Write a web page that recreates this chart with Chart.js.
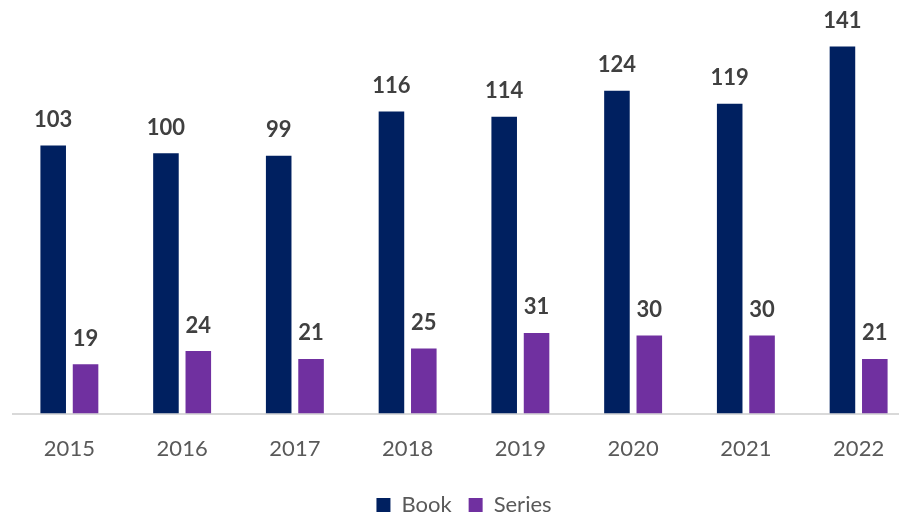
<!DOCTYPE html>
<html><head><meta charset="utf-8">
<script src="https://cdn.jsdelivr.net/npm/chart.js@4/dist/chart.umd.min.js"></script>
<style>
html,body{margin:0;padding:0;background:#fff;overflow:hidden;width:899px;height:513px}
#wrap{position:absolute;left:0;top:0;width:899px;height:513px;overflow:hidden}
canvas{position:absolute;left:0;top:0}
</style></head>
<body><div id="wrap"><canvas id="c" width="936" height="528"></canvas></div>
<script>
const years = ['2015','2016','2017','2018','2019','2020','2021','2022'];
const bookValues = [103,100,99,116,114,124,119,141];
const seriesValues = [19,24,21,25,31,30,30,21];
const FONT = 'Lato';

const labelPlugin = {
  id: 'barLabels',
  afterDatasetsDraw(chart) {
    const ctx = chart.ctx;
    ctx.save();
    ctx.font = 'bold 22px ' + FONT;
    ctx.fillStyle = '#404040';
    ctx.textAlign = 'center';
    ctx.textBaseline = 'alphabetic';
    chart.data.datasets.forEach((ds, di) => {
      chart.getDatasetMeta(di).data.forEach((bar, i) => {
        ctx.fillText(String(ds.data[i]), bar.x, bar.y - 18.5);
      });
    });
    ctx.restore();
  }
};

new Chart(document.getElementById('c'), {
  type: 'bar',
  data: {
    labels: years,
    datasets: [
      {label: 'Book', data: bookValues, backgroundColor: '#002060', categoryPercentage: 0.574, barPercentage: 0.79},
      {label: 'Series', data: seriesValues, backgroundColor: '#7030A0', categoryPercentage: 0.574, barPercentage: 0.79}
    ]
  },
  options: {
    responsive: false,
    animation: false,
    layout: {padding: {left: 13, right: 21, top: 10, bottom: 2}},
    scales: {
      x: {
        grid: {display: false, drawTicks: false},
        border: {display: true, color: '#D9D9D9', width: 2},
        ticks: {color: '#595959', font: {family: FONT, size: 22}, padding: 22.5},
        afterFit(scale) { scale.height = 63.4; }
      },
      y: {display: false, min: 0, max: 155}
    },
    plugins: {
      legend: {
        position: 'bottom',
        labels: {boxWidth: 14, boxHeight: 14, color: '#595959', font: {family: FONT, size: 22}, padding: 17, useBorderRadius: false}
      },
      tooltip: {enabled: false}
    }
  },
  plugins: [labelPlugin]
});
</script></body></html>
